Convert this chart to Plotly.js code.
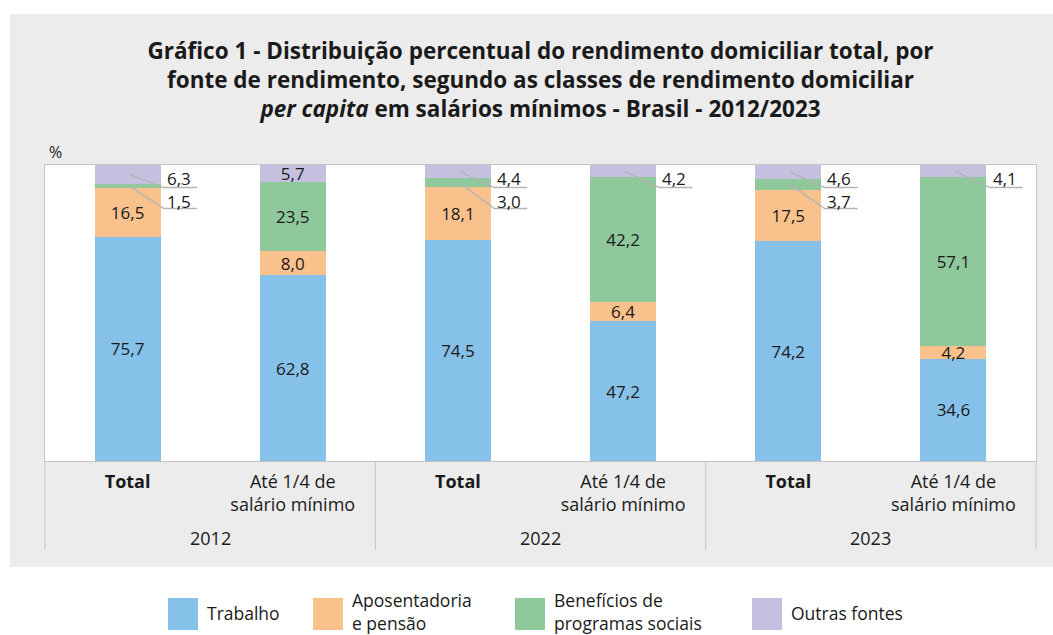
<!DOCTYPE html>
<html>
<head>
<meta charset="utf-8">
<script src="https://cdn.plot.ly/plotly-3.0.1.min.js"></script>
<style>html,body{margin:0;padding:0;background:#fff;}#chart{width:1053px;height:635px;}</style>
</head>
<body>
<div id="chart"></div>
<script>
// ---- data ----
const years = ['2012', '2012', '2022', '2022', '2023', '2023'];
const classes = ['<b>Total</b>', 'Até 1/4 de<br>salário mínimo', '<b>Total</b>', 'Até 1/4 de<br>salário mínimo', '<b>Total</b>', 'Até 1/4 de<br>salário mínimo'];
const trabalho = [75.7, 62.8, 74.5, 47.2, 74.2, 34.6];
const aposentadoria = [16.5, 8.0, 18.1, 6.4, 17.5, 4.2];
const beneficios = [1.5, 23.5, 3.0, 42.2, 3.7, 57.1];
const outras = [6.3, 5.7, 4.4, 4.2, 4.6, 4.1];
const seriesNames = ['Trabalho', 'Aposentadoria<br>e pensão', 'Benefícios de<br>programas sociais', 'Outras fontes'];
const seriesColors = ['#86c1e9', '#f9c18b', '#8fc89b', '#c5c0df'];
// which labels are drawn outside the bar with a leader line
const calloutOutras = [true, false, true, true, true, true];
const calloutBenef = [true, false, true, false, true, false];

// ---- helpers ----
const FONT = '"Open Sans", Roboto, sans-serif';
const fmt = v => v.toFixed(1).replace('.', ',');
const W = 1053, H = 635, ML = 45, MR = 17, MT = 165, MB = 174;
const PW = W - ML - MR, PH = H - MT - MB;
const px = x => (x - ML) / PW;            // pixel x -> paper x
const py = y => (H - MB - y) / PH;         // pixel y -> paper y
const nCat = years.length;
const catCenter = i => (i + 0.5) / nCat;   // paper x of category centre
const cu = 1 / nCat;                      // one category unit in paper

// unique category keys (year + class)
const xKeys = years.map((y, i) => y + ' ' + i);
const groups = [...new Set(years)];

const allSeries = [trabalho, aposentadoria, beneficios, outras];
const hideMask = [null, null, calloutBenef, calloutOutras];

const traces = allSeries.map((vals, s) => ({
  type: 'bar',
  name: seriesNames[s],
  x: xKeys,
  y: vals,
  width: 0.4,
  marker: {color: seriesColors[s], line: {width: 0}},
  text: vals.map((v, i) => (hideMask[s] && hideMask[s][i]) ? '' : fmt(v)),
  textposition: 'inside',
  insidetextanchor: 'middle',
  textangle: 0,
  constraintext: 'none',
  textfont: {family: FONT, size: 17, color: '#1a1a1a'},
  hoverinfo: 'skip',
  showlegend: false
}));

const shapes = [];
const annotations = [];
const lineStyle = {color: '#b3b3b3', width: 1.3};
const divColor = '#c4c4c4';

// background panel: white strips outside grey panel
shapes.push({type: 'rect', xref: 'paper', yref: 'paper', x0: -1, x1: 2, y0: py(14), y1: 3, fillcolor: '#ffffff', line: {width: 0}, layer: 'below'});
shapes.push({type: 'rect', xref: 'paper', yref: 'paper', x0: -1, x1: px(10), y0: -2, y1: 3, fillcolor: '#ffffff', line: {width: 0}, layer: 'below'});
shapes.push({type: 'rect', xref: 'paper', yref: 'paper', x0: -1, x1: 2, y0: -2, y1: py(567), fillcolor: '#ffffff', line: {width: 0}, layer: 'below'});

// year group labels and dividers
groups.forEach((g, k) => {
  const idx = years.map((y, i) => y === g ? i : -1).filter(i => i >= 0);
  const first = idx[0], last = idx[idx.length - 1];
  annotations.push({xref: 'paper', yref: 'paper', x: (first + last + 1) / 2 / nCat, y: py(538), text: g, showarrow: false, xanchor: 'center', yanchor: 'middle', font: {family: FONT, size: 18, color: '#1a1a1a'}});
  shapes.push({type: 'line', xref: 'paper', yref: 'paper', x0: first / nCat, x1: first / nCat, y0: py(461), y1: py(550), line: {color: divColor, width: 1}});
  if (k === groups.length - 1) shapes.push({type: 'line', xref: 'paper', yref: 'paper', x0: (last + 1) / nCat, x1: (last + 1) / nCat, y0: py(461), y1: py(550), line: {color: divColor, width: 1}});
});

// callouts
const levels = [{elbow: 92.4, text: 95.6}, {elbow: 85.3, text: 87.6}];
for (let i = 0; i < nCat; i++) {
  const items = [];
  if (calloutOutras[i]) items.push({v: outras[i], start: 100 - outras[i] / 2});
  if (calloutBenef[i]) items.push({v: beneficios[i], start: trabalho[i] + aposentadoria[i] + beneficios[i] / 2});
  items.forEach((it, k) => {
    const c = catCenter(i);
    const lv = levels[k];
    shapes.push({
      type: 'path', xref: 'paper', yref: 'y',
      path: `M ${c + 0.01 * cu},${it.start} L ${c + 0.22 * cu},${lv.elbow} L ${c + 0.42 * cu},${lv.elbow}`,
      line: lineStyle
    });
    annotations.push({
      xref: 'paper', yref: 'y', x: c + 0.31 * cu, y: lv.text,
      text: fmt(it.v), showarrow: false, xanchor: 'center', yanchor: 'middle', borderpad: 0,
      font: {family: FONT, size: 17, color: '#1a1a1a'}
    });
  });
}

// % label
annotations.push({xref: 'paper', yref: 'paper', x: px(47), y: py(152), text: '%', showarrow: false, xanchor: 'left', yanchor: 'middle', font: {family: FONT, size: 16, color: '#1a1a1a'}});

// legend (custom, tall swatches)
const legendX = [168, 313, 515, 752];
seriesNames.forEach((n, s) => {
  shapes.push({type: 'rect', xref: 'paper', yref: 'paper', x0: px(legendX[s]), x1: px(legendX[s] + 30), y0: py(630), y1: py(598), fillcolor: seriesColors[s], line: {width: 0}});
  const twoLine = n.indexOf('<br>') >= 0;
  annotations.push({xref: 'paper', yref: 'paper', x: px(legendX[s] + 38), y: py(twoLine ? 611 : 613), text: n, showarrow: false, xanchor: 'left', yanchor: 'middle', align: 'left', borderpad: 0, font: {family: FONT, size: 17.5, color: '#1a1a1a'}});
});

const layout = {
  width: W, height: H,
  margin: {l: ML, r: MR, t: MT, b: MB, pad: 0},
  paper_bgcolor: '#ececec',
  plot_bgcolor: '#ffffff',
  separators: ',.',
  barmode: 'stack',
  showlegend: false,
  title: {
    text: '<b>Gráfico 1 - Distribuição percentual do rendimento domiciliar total, por<br>fonte de rendimento, segundo as classes de rendimento domiciliar<br><i>per capita</i> em salários mínimos - Brasil - 2012/2023</b>',
    font: {family: FONT, size: 22.5, color: '#1a1a1a'},
    x: 0.5, xref: 'paper', xanchor: 'center',
    y: 1 - 58.5 / H, yref: 'container', yanchor: 'top'
  },
  xaxis: {
    type: 'category',
    range: [-0.5, nCat - 0.5],
    tickmode: 'array', tickvals: xKeys, ticktext: classes,
    tickfont: {family: FONT, size: 18, color: '#1a1a1a'},
    showline: true, linecolor: divColor, linewidth: 1, mirror: true,
    ticks: '', ticklabelstandoff: 4,
    showgrid: false, zeroline: false, fixedrange: true
  },
  yaxis: {
    range: [0, 100], showticklabels: false, showgrid: false, zeroline: false,
    showline: true, linecolor: divColor, linewidth: 1, mirror: true, ticks: '', fixedrange: true
  },
  shapes: shapes,
  annotations: annotations,
  font: {family: FONT, color: '#1a1a1a'}
};

Plotly.newPlot('chart', traces, layout, {displayModeBar: false, staticPlot: true});
</script>
</body>
</html>
